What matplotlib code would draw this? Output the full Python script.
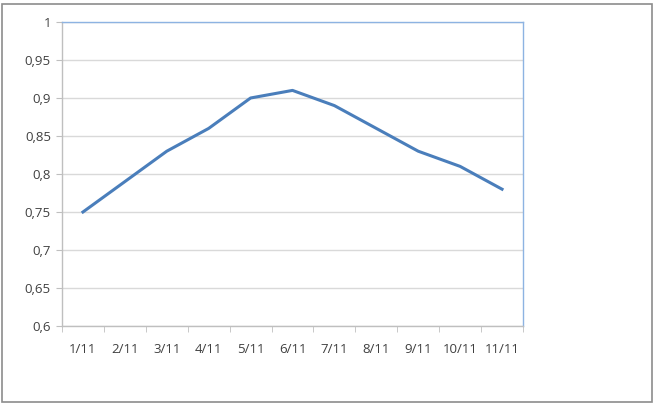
import numpy as np
import matplotlib.pyplot as plt
from matplotlib.patches import Rectangle

# --- data ---
dates = ['1/11', '2/11', '3/11', '4/11', '5/11', '6/11', '7/11', '8/11', '9/11', '10/11', '11/11']
values = [0.75, 0.79, 0.83, 0.86, 0.90, 0.91, 0.89, 0.86, 0.83, 0.81, 0.78]
y_ticks = [0.6, 0.65, 0.7, 0.75, 0.8, 0.85, 0.9, 0.95, 1.0]

plt.rcParams['font.family'] = ['Open Sans', 'DejaVu Sans']

fig = plt.figure(figsize=(6.56, 4.05), dpi=100)
ax = fig.add_axes([62 / 656, 1 - 326 / 405, (523 - 62) / 656, (326 - 22) / 405])

# outer chart border
fig.patches.append(Rectangle((2 / 656, 3 / 405), 650 / 656, 398 / 405,
                             transform=fig.transFigure, fill=False,
                             edgecolor='#8c8c8c', linewidth=1.2))

x = np.arange(len(dates))
ax.plot(x, values, color='#4a7ebb', linewidth=2.2, solid_joinstyle='round', zorder=3)

ax.set_xlim(-0.5, len(dates) - 0.5)
ax.set_ylim(0.6, 1.0)

ax.set_yticks(y_ticks)
ax.set_yticklabels([('%g' % v).replace('.', ',') for v in y_ticks])
ax.set_xticks(x)
ax.set_xticklabels(dates)
ax.set_xticks(np.arange(-0.5, len(dates)), minor=True)

ax.grid(axis='y', color='#d9d9d9', linewidth=1.0, zorder=0)
ax.tick_params(axis='x', which='major', length=0, pad=12, labelsize=9.5, labelcolor='#404040')
ax.tick_params(axis='x', which='minor', length=4, direction='out', color='#bfbfbf')
ax.tick_params(axis='y', length=4, direction='out', color='#bfbfbf', pad=4,
               labelsize=9.5, labelcolor='#404040')

for side in ['left', 'bottom']:
    ax.spines[side].set_color('#bfbfbf')
    ax.spines[side].set_linewidth(1.0)
for side in ['top', 'right']:
    ax.spines[side].set_color('#8db3e2')
    ax.spines[side].set_linewidth(1.0)

fig.savefig('out.png', dpi=100)
